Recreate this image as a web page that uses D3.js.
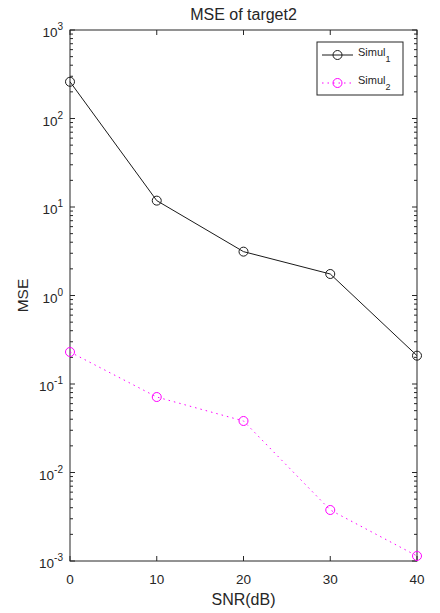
<!DOCTYPE html>
<html>
<head>
<meta charset="utf-8">
<script src="https://cdn.jsdelivr.net/npm/d3@7"></script>
<style>
body { margin: 0; background: #fff; }
text { font-family: Arial, "Liberation Sans", sans-serif; fill: #262626; }
</style>
</head>
<body>
<div id="chart"></div>
<script>
var w = 440,
    h = 613;

// data
var snr = [0, 10, 20, 30, 40];
var simul1 = [260, 11.8, 3.13, 1.75, 0.209];
var simul2 = [0.23, 0.0713, 0.0382, 0.00377, 0.00114];
var xTicks = [0, 10, 20, 30, 40];
var yExps = [-3, -2, -1, 0, 1, 2, 3];

var m = {top: 30, right: 23, bottom: 52, left: 70};

var svg = d3.select("#chart")
    .append("svg")
    .attr("width", w)
    .attr("height", h);

var x = d3.scaleLinear().domain([0, 40]).range([m.left, w - m.right]);
var y = d3.scaleLog().domain([1e-3, 1e3]).range([h - m.bottom, m.top]);

var axisCol = "#262626";

// box
svg.append("rect")
    .attr("x", x(0)).attr("y", y(1e3))
    .attr("width", x(40) - x(0)).attr("height", y(1e-3) - y(1e3))
    .attr("fill", "none").attr("stroke", axisCol).attr("stroke-width", 1);

// x ticks, inward top and bottom
xTicks.forEach(function(t) {
    svg.append("line").attr("x1", x(t)).attr("x2", x(t))
        .attr("y1", y(1e-3)).attr("y2", y(1e-3) - 5)
        .attr("stroke", axisCol);
    svg.append("line").attr("x1", x(t)).attr("x2", x(t))
        .attr("y1", y(1e3)).attr("y2", y(1e3) + 5)
        .attr("stroke", axisCol);
    svg.append("text")
        .attr("x", x(t)).attr("y", h - m.bottom + 23)
        .attr("text-anchor", "middle")
        .attr("font-size", "13.5px")
        .text(t);
});

// y ticks: major + minor, both sides
var ticksY = [];
yExps.forEach(function(e) {
    ticksY.push({v: Math.pow(10, e), len: 5});
    if (e < 3) {
        for (var k = 2; k <= 9; k++) ticksY.push({v: k * Math.pow(10, e), len: 3});
    }
});
ticksY.forEach(function(t) {
    svg.append("line").attr("x1", x(0)).attr("x2", x(0) + t.len)
        .attr("y1", y(t.v)).attr("y2", y(t.v)).attr("stroke", axisCol);
    svg.append("line").attr("x1", x(40)).attr("x2", x(40) - t.len)
        .attr("y1", y(t.v)).attr("y2", y(t.v)).attr("stroke", axisCol);
});

yExps.forEach(function(e) {
    var lab = svg.append("text")
        .attr("x", m.left - 7).attr("y", y(Math.pow(10, e)) + 7)
        .attr("text-anchor", "end")
        .attr("font-size", "13.5px");
    lab.append("tspan").text("10");
    lab.append("tspan").attr("dy", -7).attr("font-size", "10px").text(e);
});

// title and axis labels
svg.append("text")
    .attr("x", (x(0) + x(40)) / 2).attr("y", 20)
    .attr("text-anchor", "middle")
    .attr("font-size", "16px")
    .attr("fill", "#000")
    .text("MSE of target2");

svg.append("text")
    .attr("x", (x(0) + x(40)) / 2).attr("y", h - 8)
    .attr("text-anchor", "middle")
    .attr("font-size", "16px")
    .text("SNR(dB)");

svg.append("text")
    .attr("transform", "translate(28," + ((y(1e3) + y(1e-3)) / 2) + ") rotate(-90)")
    .attr("text-anchor", "middle")
    .attr("font-size", "15.5px")
    .text("MSE");

// series
var series = [
    {name: "Simul", sub: "1", values: simul1, color: "#1a1a1a", dash: null},
    {name: "Simul", sub: "2", values: simul2, color: "#ff00ff", dash: "1.5,4"}
];

var line = d3.line()
    .x(function(d) { return x(d[0]); })
    .y(function(d) { return y(d[1]); });

series.forEach(function(s) {
    var pts = d3.zip(snr, s.values);
    svg.append("path")
        .attr("d", line(pts))
        .attr("fill", "none")
        .attr("stroke", s.color)
        .attr("stroke-width", 1)
        .attr("stroke-dasharray", s.dash);
    svg.selectAll(null)
        .data(pts)
        .enter()
        .append("circle")
        .attr("cx", function(d) { return x(d[0]); })
        .attr("cy", function(d) { return y(d[1]); })
        .attr("r", 4.5)
        .attr("fill", "none")
        .attr("stroke", s.color)
        .attr("stroke-width", 1);
});

// legend
var lg = svg.append("g").attr("transform", "translate(317,42)");
lg.append("rect")
    .attr("width", 86).attr("height", 53)
    .attr("fill", "#fff").attr("stroke", axisCol);
series.forEach(function(s, i) {
    var cy = 13 + i * 28;
    lg.append("line").attr("x1", 5).attr("x2", 36)
        .attr("y1", cy).attr("y2", cy)
        .attr("stroke", s.color).attr("stroke-dasharray", s.dash);
    lg.append("circle").attr("cx", 20.5).attr("cy", cy).attr("r", 4.5)
        .attr("fill", "none").attr("stroke", s.color);
    var t = lg.append("text").attr("x", 41).attr("y", cy + 1)
        .attr("font-size", "11px").attr("fill", "#000");
    t.append("tspan").text(s.name);
    t.append("tspan").attr("dy", 6).attr("font-size", "9px").text(s.sub);
});
</script>
</body>
</html>
